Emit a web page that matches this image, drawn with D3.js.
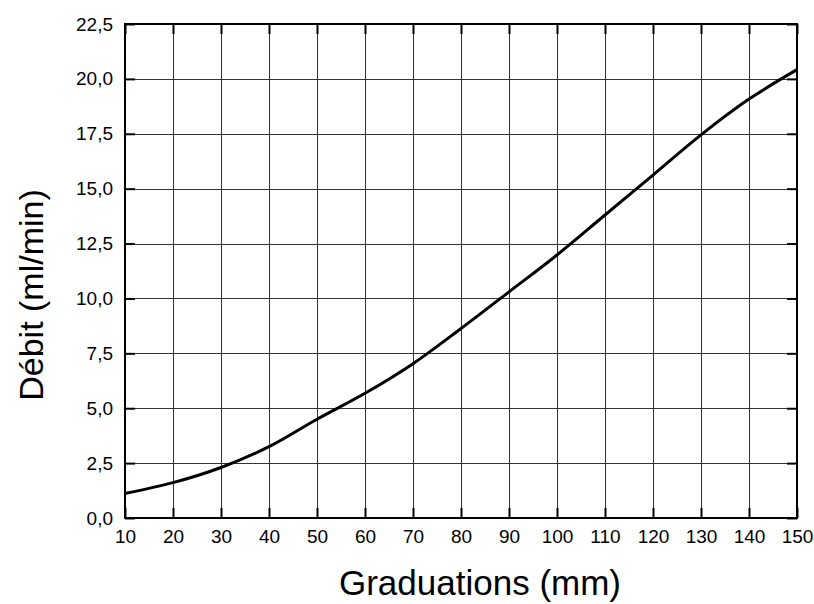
<!DOCTYPE html>
<html>
<head>
<meta charset="utf-8">
<script src="https://cdn.jsdelivr.net/npm/d3@7"></script>
<style>
  body { margin: 0; background: #fff; }
  svg { display: block; font-family: "Liberation Sans", Arial, sans-serif; }
</style>
</head>
<body>
<svg id="chart"></svg>
<script>
// Chart data
const graduations = [10, 20, 30, 40, 50, 60, 70, 80, 90, 100, 110, 120, 130, 140, 150];
const debit = [1.12, 1.61, 2.3, 3.25, 4.5, 5.68, 7.03, 8.63, 10.3, 11.98, 13.8, 15.62, 17.45, 19.08, 20.42];
const xTicks = [10, 20, 30, 40, 50, 60, 70, 80, 90, 100, 110, 120, 130, 140, 150];
const yTicks = [0, 2.5, 5, 7.5, 10, 12.5, 15, 17.5, 20, 22.5];

const width = 814;
const height = 604;
const margin = { top: 24, right: 17, bottom: 86, left: 125 };
const innerW = width - margin.left - margin.right;
const innerH = height - margin.top - margin.bottom;

const svg = d3.select("#chart").attr("width", width).attr("height", height);
const g = svg.append("g").attr("transform", `translate(${margin.left},${margin.top})`);

const x = d3.scaleLinear().domain([10, 150]).range([0, innerW]);
const y = d3.scaleLinear().domain([0, 22.5]).range([innerH, 0]);

const fmt = (d) => d3.format(".1f")(d).replace(".", ",");

// Grid
g.append("g")
  .selectAll("line")
  .data(xTicks.slice(1, -1))
  .join("line")
  .attr("x1", (d) => Math.round(x(d)) + 0.5)
  .attr("x2", (d) => Math.round(x(d)) + 0.5)
  .attr("y1", 0)
  .attr("y2", innerH)
  .attr("stroke", "#333")
  .attr("stroke-width", 1);

g.append("g")
  .selectAll("line")
  .data(yTicks.slice(1, -1))
  .join("line")
  .attr("y1", (d) => Math.round(y(d)) + 0.5)
  .attr("y2", (d) => Math.round(y(d)) + 0.5)
  .attr("x1", 0)
  .attr("x2", innerW)
  .attr("stroke", "#333")
  .attr("stroke-width", 1);

// Axes with inward ticks (label offset = tickPadding when tickSize is negative)
const xAxis = g.append("g")
  .attr("transform", `translate(0,${innerH})`)
  .call(d3.axisBottom(x).tickValues(xTicks).tickSize(-10).tickPadding(12).tickFormat(d3.format("d")));
const xTop = g.append("g")
  .call(d3.axisTop(x).tickValues(xTicks).tickSize(-10).tickFormat(""));
const yAxis = g.append("g")
  .call(d3.axisLeft(y).tickValues(yTicks).tickSize(-10).tickPadding(12).tickFormat(fmt));
const yRight = g.append("g")
  .attr("transform", `translate(${innerW},0)`)
  .call(d3.axisRight(y).tickValues(yTicks).tickSize(-10).tickFormat(""));

[xAxis, xTop, yAxis, yRight].forEach((a) => {
  a.attr("font-size", null).attr("font-family", null);
  a.select(".domain").remove();
  a.selectAll(".tick line").attr("stroke", "#000").attr("stroke-width", 2);
  a.selectAll("text").style("font-size", "19px").style("fill", "#000")
    .style("font-family", "'Liberation Sans', Arial, sans-serif");
});

// Frame
g.append("rect")
  .attr("width", innerW)
  .attr("height", innerH)
  .attr("fill", "none")
  .attr("stroke", "#000")
  .attr("stroke-width", 2);

// Curve
const line = d3.line()
  .x((d, i) => x(graduations[i]))
  .y((d) => y(d))
  .curve(d3.curveCatmullRom.alpha(0.5));

g.append("path")
  .datum(debit)
  .attr("d", line)
  .attr("fill", "none")
  .attr("stroke", "#000")
  .attr("stroke-width", 3);

// Axis titles
svg.append("text")
  .attr("x", 480)
  .attr("y", 595)
  .attr("text-anchor", "middle")
  .style("font-size", "35px")
  .text("Graduations (mm)");

svg.append("text")
  .attr("transform", "translate(43,295) rotate(-90)")
  .attr("text-anchor", "middle")
  .style("font-size", "34px")
  .text("Débit (ml/min)");
</script>
</body>
</html>
